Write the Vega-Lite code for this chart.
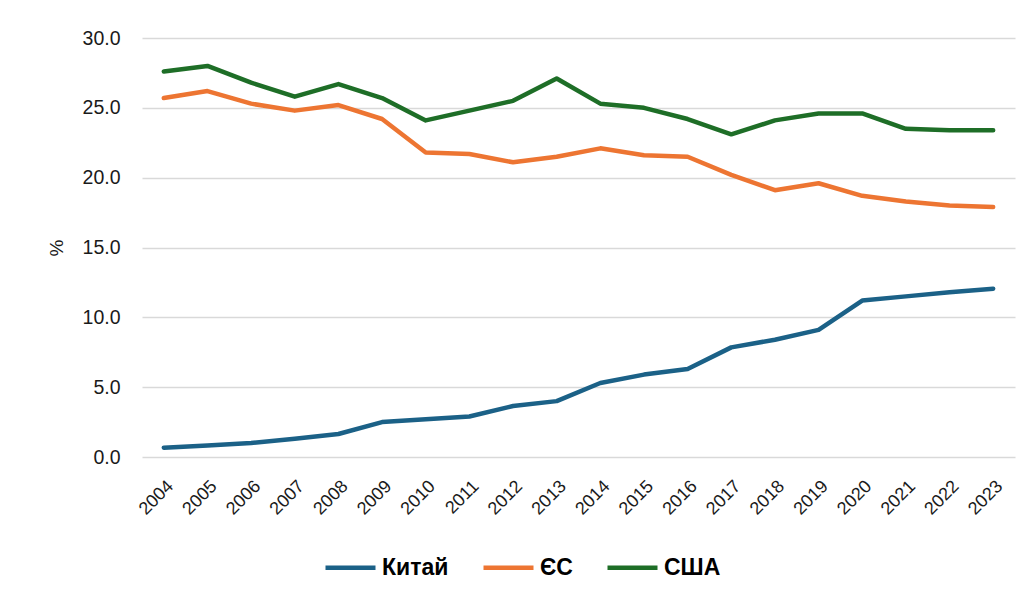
{
  "$schema": "https://vega.github.io/schema/vega-lite/v6.json",
  "autosize": {"type": "none"},
  "width": 873,
  "height": 419,
  "padding": {"left": 142, "top": 38, "right": 14, "bottom": 144},
  "background": "white",
  "config": {
    "view": {"stroke": null},
    "font": "Liberation Sans"
  },
  "data": {
    "values": [
      {"year": "2004", "region": "Китай", "value": 0.67},
      {"year": "2005", "region": "Китай", "value": 0.83},
      {"year": "2006", "region": "Китай", "value": 1.0},
      {"year": "2007", "region": "Китай", "value": 1.3},
      {"year": "2008", "region": "Китай", "value": 1.65},
      {"year": "2009", "region": "Китай", "value": 2.5},
      {"year": "2010", "region": "Китай", "value": 2.7},
      {"year": "2011", "region": "Китай", "value": 2.9},
      {"year": "2012", "region": "Китай", "value": 3.65},
      {"year": "2013", "region": "Китай", "value": 4.0},
      {"year": "2014", "region": "Китай", "value": 5.3},
      {"year": "2015", "region": "Китай", "value": 5.9},
      {"year": "2016", "region": "Китай", "value": 6.3},
      {"year": "2017", "region": "Китай", "value": 7.85},
      {"year": "2018", "region": "Китай", "value": 8.4},
      {"year": "2019", "region": "Китай", "value": 9.1},
      {"year": "2020", "region": "Китай", "value": 11.2},
      {"year": "2021", "region": "Китай", "value": 11.5},
      {"year": "2022", "region": "Китай", "value": 11.8},
      {"year": "2023", "region": "Китай", "value": 12.05},
      {"year": "2004", "region": "ЄС", "value": 25.7},
      {"year": "2005", "region": "ЄС", "value": 26.2},
      {"year": "2006", "region": "ЄС", "value": 25.3},
      {"year": "2007", "region": "ЄС", "value": 24.8},
      {"year": "2008", "region": "ЄС", "value": 25.2},
      {"year": "2009", "region": "ЄС", "value": 24.2},
      {"year": "2010", "region": "ЄС", "value": 21.8},
      {"year": "2011", "region": "ЄС", "value": 21.7},
      {"year": "2012", "region": "ЄС", "value": 21.1},
      {"year": "2013", "region": "ЄС", "value": 21.5},
      {"year": "2014", "region": "ЄС", "value": 22.1},
      {"year": "2015", "region": "ЄС", "value": 21.6},
      {"year": "2016", "region": "ЄС", "value": 21.5},
      {"year": "2017", "region": "ЄС", "value": 20.2},
      {"year": "2018", "region": "ЄС", "value": 19.1},
      {"year": "2019", "region": "ЄС", "value": 19.6},
      {"year": "2020", "region": "ЄС", "value": 18.7},
      {"year": "2021", "region": "ЄС", "value": 18.3},
      {"year": "2022", "region": "ЄС", "value": 18.0},
      {"year": "2023", "region": "ЄС", "value": 17.9},
      {"year": "2004", "region": "США", "value": 27.6},
      {"year": "2005", "region": "США", "value": 28.0},
      {"year": "2006", "region": "США", "value": 26.8},
      {"year": "2007", "region": "США", "value": 25.8},
      {"year": "2008", "region": "США", "value": 26.7},
      {"year": "2009", "region": "США", "value": 25.7},
      {"year": "2010", "region": "США", "value": 24.1},
      {"year": "2011", "region": "США", "value": 24.8},
      {"year": "2012", "region": "США", "value": 25.5},
      {"year": "2013", "region": "США", "value": 27.1},
      {"year": "2014", "region": "США", "value": 25.3},
      {"year": "2015", "region": "США", "value": 25.0},
      {"year": "2016", "region": "США", "value": 24.2},
      {"year": "2017", "region": "США", "value": 23.1},
      {"year": "2018", "region": "США", "value": 24.1},
      {"year": "2019", "region": "США", "value": 24.6},
      {"year": "2020", "region": "США", "value": 24.6},
      {"year": "2021", "region": "США", "value": 23.5},
      {"year": "2022", "region": "США", "value": 23.4},
      {"year": "2023", "region": "США", "value": 23.4}
    ]
  },
  "mark": {"type": "line", "strokeWidth": 4.5, "strokeCap": "round", "strokeJoin": "round"},
  "encoding": {
    "x": {
      "field": "year",
      "type": "ordinal",
      "scale": {"type": "point", "padding": 0.5},
      "axis": {
        "title": null,
        "labelAngle": -45,
        "labelFontSize": 18,
        "labelColor": "#1a1a1a",
        "labelPadding": 20,
        "labelDx": -6,
        "ticks": false,
        "domain": false,
        "grid": false
      }
    },
    "y": {
      "field": "value",
      "type": "quantitative",
      "scale": {"domain": [0, 30], "nice": false},
      "axis": {
        "title": "%",
        "titleFontSize": 19,
        "titleFontWeight": "normal",
        "titleColor": "#1a1a1a",
        "titlePadding": 16,
        "values": [0, 5, 10, 15, 20, 25, 30],
        "format": ".1f",
        "labelFontSize": 19.5,
        "labelColor": "#1a1a1a",
        "labelPadding": 22,
        "ticks": false,
        "domain": false,
        "gridColor": "#d9d9d9",
        "gridWidth": 1.5
      }
    },
    "color": {
      "field": "region",
      "type": "nominal",
      "sort": ["Китай", "ЄС", "США"],
      "scale": {
        "domain": ["Китай", "ЄС", "США"],
        "range": ["#1b6187", "#ed7532", "#1e6e27"]
      },
      "legend": {
        "title": null,
        "orient": "none",
        "legendX": 181,
        "legendY": 502,
        "direction": "horizontal",
        "symbolType": "stroke",
        "symbolSize": 2500,
        "symbolStrokeWidth": 4.5,
        "labelFontSize": 23,
        "labelFontWeight": "bold",
        "labelColor": "#000000",
        "labelOffset": 4,
        "columnPadding": 25
      }
    }
  }
}
